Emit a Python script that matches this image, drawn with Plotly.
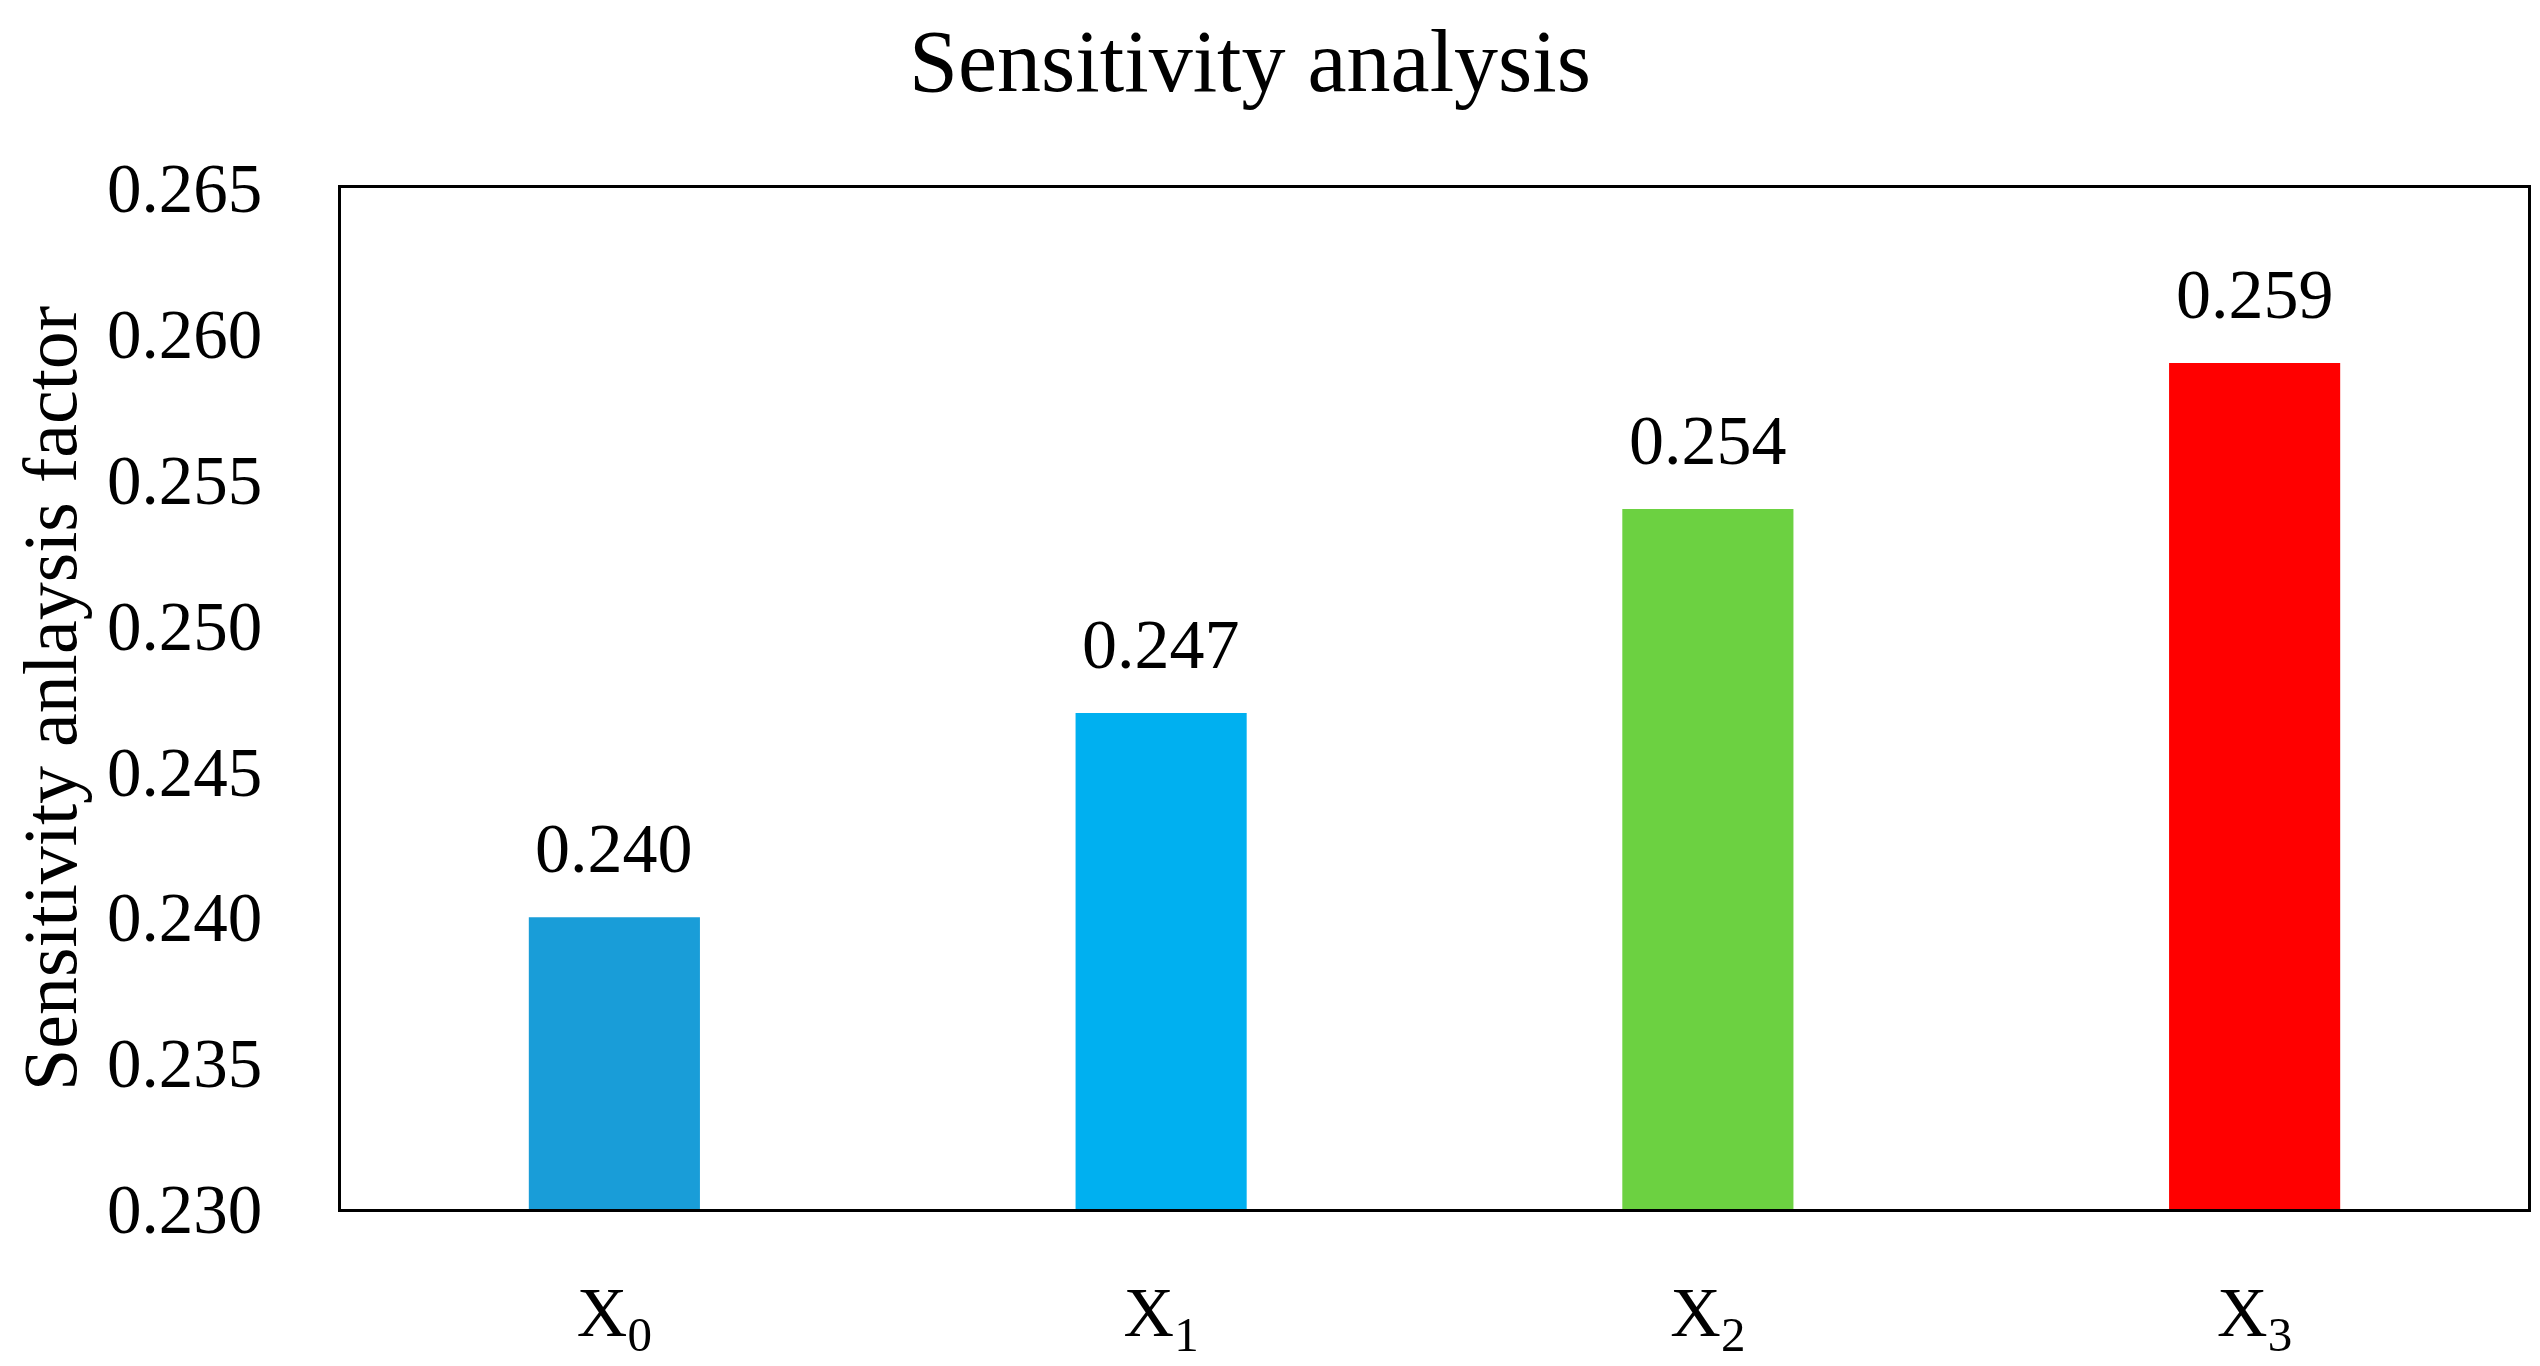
import plotly.graph_objects as go

categories = ["X<sub>0</sub>", "X<sub>1</sub>", "X<sub>2</sub>", "X<sub>3</sub>"]
values = [0.240, 0.247, 0.254, 0.259]
colors = ["#199DD8", "#00B0F0", "#6CD141", "#FF0000"]
y_ticks = [0.230, 0.235, 0.240, 0.245, 0.250, 0.255, 0.260, 0.265]

FONT = "Palatino Linotype, Book Antiqua, Palatino, Liberation Serif, serif"

fig = go.Figure()
fig.add_trace(go.Bar(x=categories, y=values, marker=dict(color=colors, line=dict(width=0)),
                     showlegend=False))

for c, v in zip(categories, values):
    fig.add_annotation(x=c, y=v, text=f"{v:.3f}", showarrow=False, yanchor="bottom",
                       yshift=28, font=dict(size=70, color="black", family=FONT))

fig.update_layout(
    width=2540, height=1366,
    paper_bgcolor="white", plot_bgcolor="white",
    margin=dict(l=333, r=20, t=180, b=156),
    bargap=0.687,
    font=dict(family=FONT, color="black"),
    title=dict(text="Sensitivity analysis", x=0.489, xanchor="center", y=0.962, yanchor="middle",
               font=dict(size=88, family=FONT, color="black")),
)
fig.update_xaxes(showline=True, linecolor="black", linewidth=3, mirror=True,
                 showgrid=False, ticks="", tickfont=dict(size=70, family=FONT),
                 ticklabelstandoff=40)
fig.update_yaxes(range=[0.230, 0.265], tickvals=y_ticks, tickformat=".3f",
                 showline=True, linecolor="black", linewidth=3, mirror=True,
                 showgrid=False, zeroline=False, ticks="",
                 tickfont=dict(size=69, family=FONT), ticklabelstandoff=62,
                 title=dict(text="Sensitivity anlaysis factor", standoff=32,
                            font=dict(size=76, family=FONT)))

fig.write_html("out.html")
